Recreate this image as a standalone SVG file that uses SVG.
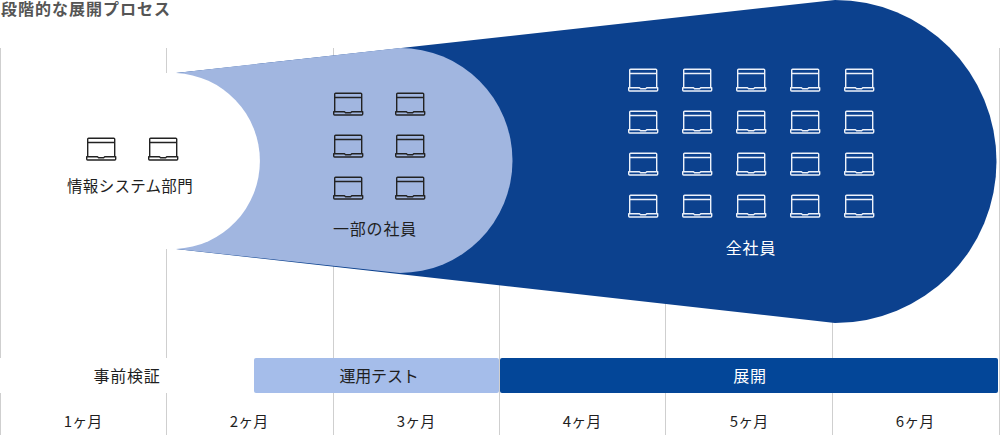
<svg xmlns="http://www.w3.org/2000/svg" xmlns:xlink="http://www.w3.org/1999/xlink" width="1000" height="435" viewBox="0 0 1000 435">
<style>
text{font-family:"Noto Sans CJK JP","Liberation Sans",sans-serif;font-size:16px;fill:#1f1f1f;text-anchor:middle;letter-spacing:.8px}
.grid{stroke:#cfcfcf;stroke-width:1;fill:none}
.lap{fill:none;stroke-width:1.4;stroke-linejoin:round}
.k{stroke:#222}.w{stroke:#eef2fa}
text.wt{fill:#fff}
text.mo{font-size:15px;letter-spacing:0}
</style>
<defs>
<g id="laptop">
<path d="M1.700 18.800V1.600Q1.700.7 2.600.7H27.800Q28.700.7 28.700 1.600V18.800M1.700 5H28.700"/>
<path d="M.7 19.200H11.500L12.500 20.200H17.700L18.700 19.200H29.700V21.600Q29.700 22.500 28.800 22.500H1.600Q.7 22.500 .7 21.600Z"/>
</g>
</defs>
<rect width="1000" height="435" fill="#fff"/>
<g id="grid">
<path class="grid" d="M.5 48V435M166.500 48V435M333.500 48V435M499.500 48V435M665.500 48V435M832.500 48V435M999.500 48V435"/>
</g>
<g id="funnel">
<path d="M176 73L835 0A161.500 161.500 0 0 1 835 323L176 249Z" fill="#0c418e"/>
<path d="M176 73L400 48A112.500 112.500 0 0 1 400 273L176 249Z" fill="#a1b6e0"/>
<path d="M176 73A88.100 88.100 0 0 1 176 249L160 249V73Z" fill="#fff"/>
</g>
<text x="1" y="15" style="font-weight:700;fill:#555;letter-spacing:1px;text-anchor:start">段階的な展開プロセス</text>
<g id="dept">
<g class="lap k"><use xlink:href="#laptop" x="86" y="137.500"/><use xlink:href="#laptop" x="148" y="137.500"/></g>
<text x="130" y="192" style="font-size:15.500px;letter-spacing:.3px">情報システム部門</text>
</g>
<g id="some">
<g class="lap k">
<use xlink:href="#laptop" x="333" y="92.500"/><use xlink:href="#laptop" x="395" y="92.500"/>
<use xlink:href="#laptop" x="333" y="134.500"/><use xlink:href="#laptop" x="395" y="134.500"/>
<use xlink:href="#laptop" x="333" y="176.500"/><use xlink:href="#laptop" x="395" y="176.500"/>
</g>
<text x="375" y="234.500">一部の社員</text>
</g>
<g id="all">
<g class="lap w">
<use xlink:href="#laptop" x="628" y="68.500"/><use xlink:href="#laptop" x="682" y="68.500"/><use xlink:href="#laptop" x="736" y="68.500"/><use xlink:href="#laptop" x="790" y="68.500"/><use xlink:href="#laptop" x="844" y="68.500"/>
<use xlink:href="#laptop" x="628" y="110.500"/><use xlink:href="#laptop" x="682" y="110.500"/><use xlink:href="#laptop" x="736" y="110.500"/><use xlink:href="#laptop" x="790" y="110.500"/><use xlink:href="#laptop" x="844" y="110.500"/>
<use xlink:href="#laptop" x="628" y="152.500"/><use xlink:href="#laptop" x="682" y="152.500"/><use xlink:href="#laptop" x="736" y="152.500"/><use xlink:href="#laptop" x="790" y="152.500"/><use xlink:href="#laptop" x="844" y="152.500"/>
<use xlink:href="#laptop" x="628" y="194.500"/><use xlink:href="#laptop" x="682" y="194.500"/><use xlink:href="#laptop" x="736" y="194.500"/><use xlink:href="#laptop" x="790" y="194.500"/><use xlink:href="#laptop" x="844" y="194.500"/>
</g>
<text class="wt" x="751" y="254">全社員</text>
</g>
<g id="phase-pre">
<rect x="0" y="358" width="254" height="35" fill="#fff"/>
<text x="127" y="381.500">事前検証</text>
</g>
<g id="phase-test">
<rect x="254" y="358" width="245" height="35" rx="2" fill="#a5bdea"/>
<text x="379" y="381.500" style="letter-spacing:-.2px">運用テスト</text>
</g>
<g id="phase-deploy">
<rect x="500" y="358" width="498" height="35" rx="2" fill="#034698"/>
<text class="wt" x="750" y="381.500">展開</text>
</g>
<g id="months">
<text class="mo" x="83" y="426.500">1ヶ月</text>
<text class="mo" x="249" y="426.500">2ヶ月</text>
<text class="mo" x="416" y="426.500">3ヶ月</text>
<text class="mo" x="582" y="426.500">4ヶ月</text>
<text class="mo" x="749" y="426.500">5ヶ月</text>
<text class="mo" x="915" y="426.500">6ヶ月</text>
</g>
</svg>
